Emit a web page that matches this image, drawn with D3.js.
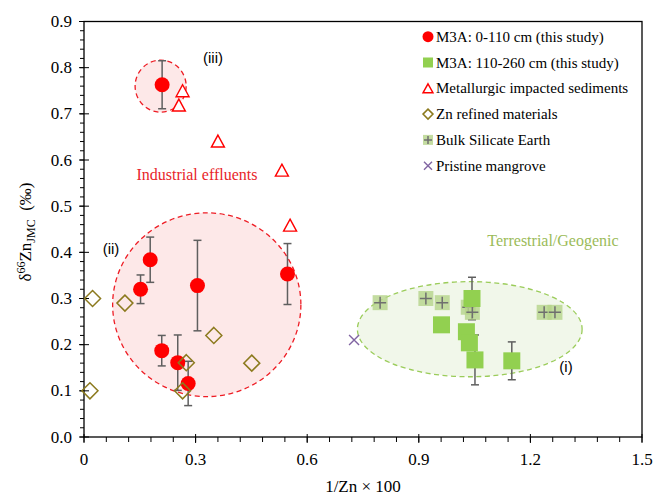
<!DOCTYPE html>
<html><head><meta charset="utf-8">
<script src="https://cdn.jsdelivr.net/npm/d3@7"></script>
<style>body{margin:0;background:#fff}svg{display:block}
.serif{font-family:"Liberation Serif","Times New Roman","DejaVu Serif",serif}
.sans{font-family:"Liberation Sans",Arial,sans-serif}</style>
</head><body>
<script>
// ---- data ----
const m3aTopX = [0.210, 0.178, 0.152, 0.305, 0.547, 0.209, 0.252, 0.280];
const m3aTopY = [0.763, 0.384, 0.320, 0.328, 0.353, 0.187, 0.161, 0.116];
const m3aTopErr = [0.052, 0.049, 0.031, 0.098, 0.066, 0.033, 0.060, 0.048];

const m3aBotX = [1.043, 0.961, 1.028, 1.036, 1.051, 1.150];
const m3aBotY = [0.300, 0.243, 0.228, 0.204, 0.167, 0.165];
const m3aBotErr = [0.046, 0, 0, 0, 0.054, 0.041];

const metalX = [0.265, 0.255, 0.360, 0.532, 0.554];
const metalY = [0.750, 0.719, 0.641, 0.578, 0.459];

const znRefX = [0.023, 0.110, 0.349, 0.451, 0.275, 0.265, 0.016];
const znRefY = [0.300, 0.290, 0.220, 0.160, 0.161, 0.100, 0.100];

const bseX = [0.796, 0.919, 0.963, 1.033, 1.044, 1.237, 1.266];
const bseY = [0.291, 0.300, 0.291, 0.281, 0.270, 0.270, 0.270];

const mangroveX = [0.726];
const mangroveY = [0.210];

const xTicks = [0, 0.3, 0.6, 0.9, 1.2, 1.5];
const yTicks = [0, 0.1, 0.2, 0.3, 0.4, 0.5, 0.6, 0.7, 0.8, 0.9];

// grouping ellipses (data units): cx, cy, rx, ry
const ellRedBig = [0.330, 0.2865, 0.253, 0.199];
const ellRedSmall = [0.206, 0.760, 0.0686, 0.0563];
const ellGreen = [1.037, 0.2335, 0.302, 0.103];

const legendLabels = ["M3A: 0-110 cm (this study)", "M3A: 110-260 cm (this study)",
  "Metallurgic impacted sediments", "Zn refined materials", "Bulk Silicate Earth", "Pristine mangrove"];

// ---- layout ----
const W = 655, H = 499;
const L = 84, R = 642, T = 21.5, B = 437;

const svg = d3.select("body").append("svg").attr("width", W).attr("height", H);
const x = d3.scaleLinear().domain([0, 1.5]).range([L, R]);
const y = d3.scaleLinear().domain([0, 0.9]).range([B, T]);

// ellipses
function ellipse(e, fill, stroke) {
  const [cx, cy, rx, ry] = e;
  svg.append("ellipse")
    .attr("cx", x(cx)).attr("cy", y(cy))
    .attr("rx", x(cx + rx) - x(cx)).attr("ry", y(cy) - y(cy + ry))
    .attr("fill", fill).attr("stroke", stroke).attr("stroke-width", 1.3)
    .attr("stroke-dasharray", "5,3.5");
}
ellipse(ellRedBig, "#fde8e8", "#ee1c24");
ellipse(ellRedSmall, "#fde8e8", "#ee1c24");
ellipse(ellGreen, "#f1f7ea", "#9bcc5a");

// frame
svg.append("rect").attr("x", L).attr("y", T).attr("width", R - L).attr("height", B - T)
  .attr("fill", "none").attr("stroke", "#000").attr("stroke-width", 1.3);

// axes
const fmtY = d3.format(".1f");
const xMinor = d3.range(0, 1.5001, 0.06);
const yMinor = d3.range(0, 0.9001, 0.02);
const axG = svg.append("g").attr("stroke", "#000").attr("stroke-width", 1);
xMinor.forEach(v => axG.append("line").attr("x1", x(v)).attr("x2", x(v)).attr("y1", B).attr("y2", B + 5));
xTicks.forEach(v => axG.append("line").attr("x1", x(v)).attr("x2", x(v)).attr("y1", B - 3).attr("y2", B + 6));
yMinor.forEach(v => axG.append("line").attr("x1", L - 4).attr("x2", L).attr("y1", y(v)).attr("y2", y(v)));
yTicks.forEach(v => axG.append("line").attr("x1", L - 5).attr("x2", L + 5).attr("y1", y(v)).attr("y2", y(v)));

svg.append("g").selectAll("text").data(xTicks).join("text").attr("class", "serif")
  .attr("x", d => x(d)).attr("y", B + 28).attr("text-anchor", "middle")
  .attr("font-size", 17).text(d => d === 0 ? "0" : d3.format(".1f")(d));
svg.append("g").selectAll("text").data(yTicks).join("text").attr("class", "serif")
  .attr("x", L - 12).attr("y", d => y(d) + 5.5).attr("text-anchor", "end")
  .attr("font-size", 17).text(d => fmtY(d));

svg.append("text").attr("class", "serif").attr("x", (L + R) / 2).attr("y", 492).attr("text-anchor", "middle")
  .attr("font-size", 17).text("1/Zn × 100");

const yt = svg.append("text").attr("class", "serif").attr("transform", "translate(31,232) rotate(-90)")
  .attr("text-anchor", "middle").attr("font-size", 17);
yt.append("tspan").text("δ");
yt.append("tspan").attr("font-size", 12).attr("dy", -6).text("66");
yt.append("tspan").attr("dy", 6).text("Zn");
yt.append("tspan").attr("font-size", 12).attr("dy", 4).text("JMC");
yt.append("tspan").attr("dy", -4).text("\u00a0 (‰)");

// error bars
function errBars(xs, ys, es) {
  const g = svg.append("g").attr("stroke", "#5f5f5f").attr("stroke-width", 1.5);
  xs.forEach((xv, i) => {
    if (!es[i]) return;
    const px = x(xv), y1 = y(ys[i] + es[i]), y2 = y(ys[i] - es[i]);
    g.append("line").attr("x1", px).attr("x2", px).attr("y1", y1).attr("y2", y2);
    g.append("line").attr("x1", px - 4).attr("x2", px + 4).attr("y1", y1).attr("y2", y1);
    g.append("line").attr("x1", px - 4).attr("x2", px + 4).attr("y1", y2).attr("y2", y2);
  });
}
errBars(m3aTopX, m3aTopY, m3aTopErr);
errBars(m3aBotX, m3aBotY, m3aBotErr);

// markers
function triPath(w, h) { return `M0,${-h/2}L${w/2},${h/2}L${-w/2},${h/2}Z`; }
function diaPath(s) { return `M0,${-s}L${s},0L0,${s}L${-s},0Z`; }

function drawBSE(g, px, py, s) {
  g.append("rect").attr("x", px - s/2).attr("y", py - s/2).attr("width", s).attr("height", s)
    .attr("fill", "#b5d38a").attr("fill-opacity", 0.8);
  g.append("path").attr("d", `M${px - s*0.4},${py}H${px + s*0.4}M${px},${py - s*0.4}V${py + s*0.4}`)
    .attr("stroke", "#6f6f6f").attr("stroke-width", 1.5);
}
function drawSquare(g, px, py, s) {
  g.append("rect").attr("x", px - s/2).attr("y", py - s/2).attr("width", s).attr("height", s).attr("fill", "#92d050");
}
function drawCircle(g, px, py, r) { g.append("circle").attr("cx", px).attr("cy", py).attr("r", r).attr("fill", "#ff0000"); }
function drawTri(g, px, py, w, h) {
  g.append("path").attr("transform", `translate(${px},${py})`).attr("d", triPath(w, h))
    .attr("fill", "#fff").attr("stroke", "#ff0000").attr("stroke-width", 1.4);
}
function drawDia(g, px, py, s) {
  g.append("path").attr("transform", `translate(${px},${py})`).attr("d", diaPath(s))
    .attr("fill", "none").attr("stroke", "#8c7a1e").attr("stroke-width", 1.5);
}
function drawX(g, px, py, s) {
  g.append("path").attr("d", `M${px-s},${py-s}L${px+s},${py+s}M${px-s},${py+s}L${px+s},${py-s}`)
    .attr("stroke", "#8064a2").attr("stroke-width", 1.4);
}

const mg = svg.append("g");
bseX.forEach((v, i) => drawBSE(mg, x(v), y(bseY[i]), 15));
m3aBotX.forEach((v, i) => drawSquare(mg, x(v), y(m3aBotY[i]), 17));
m3aTopX.forEach((v, i) => drawCircle(mg, x(v), y(m3aTopY[i]), 7.5));
metalX.forEach((v, i) => drawTri(mg, x(v), y(metalY[i]), 13, 12));
znRefX.forEach((v, i) => drawDia(mg, x(v), y(znRefY[i]), 8));
mangroveX.forEach((v, i) => drawX(mg, x(v), y(mangroveY[i]), 5));

// annotations
svg.append("text").attr("class", "sans").attr("x", 213).attr("y", 63).attr("text-anchor", "middle")
  .attr("font-size", 15).text("(iii)");
svg.append("text").attr("class", "sans").attr("x", 111).attr("y", 254).attr("text-anchor", "middle")
  .attr("font-size", 15).text("(ii)");
svg.append("text").attr("class", "sans").attr("x", 566).attr("y", 372).attr("text-anchor", "middle")
  .attr("font-size", 15).text("(i)");
svg.append("text").attr("class", "serif").attr("x", 197).attr("y", 180).attr("text-anchor", "middle")
  .attr("font-size", 16).attr("fill", "#e8252a").text("Industrial effluents");
svg.append("text").attr("class", "serif").attr("x", 553).attr("y", 246).attr("text-anchor", "middle")
  .attr("font-size", 16).attr("fill", "#9bbb59").text("Terrestrial/Geogenic");

// legend
const lg = svg.append("g");
const lx = 428, ly0 = 36.7, ldy = 25.8;
legendLabels.forEach((t, i) => {
  const cy = ly0 + i * ldy;
  if (i === 0) drawCircle(lg, lx, cy, 5.5);
  if (i === 1) drawSquare(lg, lx, cy, 10);
  if (i === 2) drawTri(lg, lx, cy, 10, 9);
  if (i === 3) drawDia(lg, lx, cy, 5);
  if (i === 4) drawBSE(lg, lx, cy, 10);
  if (i === 5) drawX(lg, lx, cy, 4);
  lg.append("text").attr("class", "serif").attr("x", lx + 8).attr("y", cy + 5)
    .attr("font-size", 15).text(t);
});
</script>
</body></html>
